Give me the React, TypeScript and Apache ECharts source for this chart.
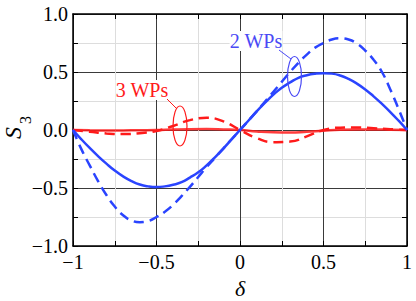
import React, { useEffect, useRef } from "react";
import * as echarts from "echarts";

const deltaFine = [
  -1, -0.95, -0.9, -0.85, -0.8, -0.75, -0.7, -0.65, -0.6, -0.55, -0.5, -0.45, -0.4, -0.35, -0.3, -0.25, -0.2, -0.15, -0.1, -0.05,
  0, 0.05, 0.1, 0.15, 0.2, 0.25, 0.3, 0.35, 0.4, 0.45, 0.5, 0.55, 0.6, 0.65, 0.7, 0.75, 0.8, 0.85, 0.9, 0.95, 1,
];
const blueSolid = [
  0, -0.08, -0.155, -0.225, -0.29, -0.35, -0.4, -0.44, -0.47, -0.486, -0.492, -0.486, -0.472, -0.45, -0.41, -0.365, -0.305, -0.235, -0.16, -0.08,
  0, 0.08, 0.16, 0.235, 0.305, 0.365, 0.41, 0.45, 0.472, 0.485, 0.49, 0.486, 0.47, 0.44, 0.4, 0.35, 0.29, 0.225, 0.155, 0.08, 0,
];
const blueDashed = [
  0, -0.165, -0.305, -0.44, -0.56, -0.66, -0.735, -0.78, -0.795, -0.785, -0.75, -0.705, -0.645, -0.57, -0.49, -0.405, -0.32, -0.24, -0.16, -0.08,
  0, 0.08, 0.16, 0.245, 0.33, 0.415, 0.5, 0.58, 0.65, 0.71, 0.75, 0.78, 0.79, 0.78, 0.745, 0.685, 0.605, 0.5, 0.35, 0.18, 0,
];
const deltaCoarse = [-1, -0.9, -0.8, -0.7, -0.6, -0.5, -0.4, -0.3, -0.2, -0.1, 0, 0.1, 0.2, 0.3, 0.4, 0.5, 0.6, 0.7, 0.8, 0.9, 1];
const redDashed = [0, -0.015, -0.03, -0.035, -0.028, -0.008, 0.035, 0.085, 0.105, 0.075, 0, -0.07, -0.105, -0.1, -0.055, 0, 0.02, 0.022, 0.015, 0.007, 0];
const redSolid = [0, -0.003, -0.005, -0.004, -0.002, 0, 0.004, 0.007, 0.008, 0.005, 0, -0.012, -0.02, -0.022, -0.015, -0.006, 0.002, 0.005, 0.005, 0.003, 0];

const xTicks = [-1, -0.5, 0, 0.5, 1];
const yTicks = [-1, -0.5, 0, 0.5, 1];

const FONT = "Liberation Serif";
const BLUE = "#2a44ff";
const RED = "#ff1a1a";

const pairs = (xs: number[], ys: number[]) => xs.map((x, i) => [x, ys[i]]);
const fmtX = (v: number) => (xTicks.includes(v) ? String(v).replace("-", "\u2212") : "");
const fmtY = (v: number) => (yTicks.includes(v) ? v.toFixed(1).replace("-", "\u2212") : "");

export default function App() {
  const ref = useRef<HTMLDivElement>(null);
  useEffect(() => {
    if (!ref.current) return;
    const chart = echarts.init(ref.current, null, { renderer: "svg" });
    const baseAxis = {
      min: -1,
      max: 1,
      interval: 0.5,
      axisLine: { show: true, onZero: false, lineStyle: { color: "#000", width: 1.5 } },
      axisTick: { show: true, inside: true, length: 5, lineStyle: { color: "#000", width: 1 } },
      minorTick: { show: true, splitNumber: 2, length: 5, lineStyle: { color: "#000", width: 1 } },
    };
    chart.setOption({
      animation: false,
      grid: { left: 73, right: 9, top: 14, bottom: 55, containLabel: false, outerBoundsMode: "none" },
      xAxis: [
        {
          ...baseAxis,
          type: "value",
          position: "bottom",
          axisLabel: { formatter: fmtX, fontFamily: FONT, fontSize: 20, color: "#000", margin: 6 },
          splitLine: { show: true, lineStyle: { color: "#3a3a3a", width: 1 } },
          minorSplitLine: { show: true, lineStyle: { color: "#dddddd", width: 1 } },
          name: "\u03b4",
          nameLocation: "middle",
          nameGap: 31,
          nameTextStyle: { fontFamily: FONT, fontSize: 22, fontStyle: "italic", color: "#000", lineHeight: 22 },
        },
        {
          ...baseAxis,
          type: "value",
          position: "top",
          axisLabel: { show: false },
          splitLine: { show: false },
        },
      ],
      yAxis: [
        {
          ...baseAxis,
          type: "value",
          position: "left",
          axisLabel: { formatter: fmtY, fontFamily: FONT, fontSize: 20, color: "#000", margin: 5 },
          splitLine: { show: true, lineStyle: { color: "#3a3a3a", width: 1 } },
          minorSplitLine: { show: true, lineStyle: { color: "#dddddd", width: 1 } },
        },
        {
          ...baseAxis,
          type: "value",
          position: "right",
          axisLabel: { show: false },
          splitLine: { show: false },
        },
      ],
      series: [
        {
          type: "line",
          data: pairs(deltaCoarse, redSolid),
          smooth: true,
          showSymbol: false,
          lineStyle: { color: RED, width: 2.5, opacity: 0.85 },
          z: 3,
        },
        {
          type: "line",
          data: pairs(deltaCoarse, redDashed),
          smooth: true,
          showSymbol: false,
          lineStyle: { color: RED, width: 2.5, type: [10, 6] },
          z: 3,
        },
        {
          type: "line",
          data: pairs(deltaFine, blueSolid),
          smooth: true,
          showSymbol: false,
          lineStyle: { color: BLUE, width: 2.5 },
          z: 4,
        },
        {
          type: "line",
          data: pairs(deltaFine, blueDashed),
          smooth: true,
          showSymbol: false,
          lineStyle: { color: BLUE, width: 2.5, type: [10, 6] },
          z: 4,
        },
      ],
      graphic: [
        {
          type: "text",
          x: 13,
          y: 133,
          rotation: Math.PI / 2,
          style: { text: "S", fontFamily: FONT, fontSize: 24, fontStyle: "italic", fill: "#000", align: "center", verticalAlign: "middle" },
          z: 10,
        },
        {
          type: "text",
          x: 25,
          y: 120,
          rotation: Math.PI / 2,
          style: { text: "3", fontFamily: FONT, fontSize: 16, fill: "#000", align: "center", verticalAlign: "middle" },
          z: 10,
        },
        {
          type: "text",
          x: 256,
          y: 41,
          style: { text: "2 WPs", fontFamily: FONT, fontSize: 20, fill: "#4a4af5", align: "center", verticalAlign: "middle", backgroundColor: "#fff" },
          z: 10,
        },
        {
          type: "line",
          shape: { x1: 279, y1: 50, x2: 291, y2: 59 },
          style: { stroke: "#4a4af5", lineWidth: 1 },
          z: 10,
        },
        {
          type: "ellipse",
          shape: { cx: 294.5, cy: 76.5, rx: 7, ry: 20 },
          style: { stroke: "#4a4af5", fill: "none", lineWidth: 1.2 },
          z: 10,
        },
        {
          type: "text",
          x: 142,
          y: 90,
          style: { text: "3 WPs", fontFamily: FONT, fontSize: 20, fill: RED, align: "center", verticalAlign: "middle", backgroundColor: "#fff" },
          z: 10,
        },
        {
          type: "line",
          shape: { x1: 167, y1: 99, x2: 177, y2: 109 },
          style: { stroke: RED, lineWidth: 1 },
          z: 10,
        },
        {
          type: "ellipse",
          shape: { cx: 180, cy: 126, rx: 7, ry: 20 },
          style: { stroke: RED, fill: "none", lineWidth: 1.2 },
          z: 10,
        },
      ],
    });
    return () => chart.dispose();
  }, []);
  return <div ref={ref} style={{ width: 416, height: 301, position: "absolute", left: 0, top: 0 }} />;
}
